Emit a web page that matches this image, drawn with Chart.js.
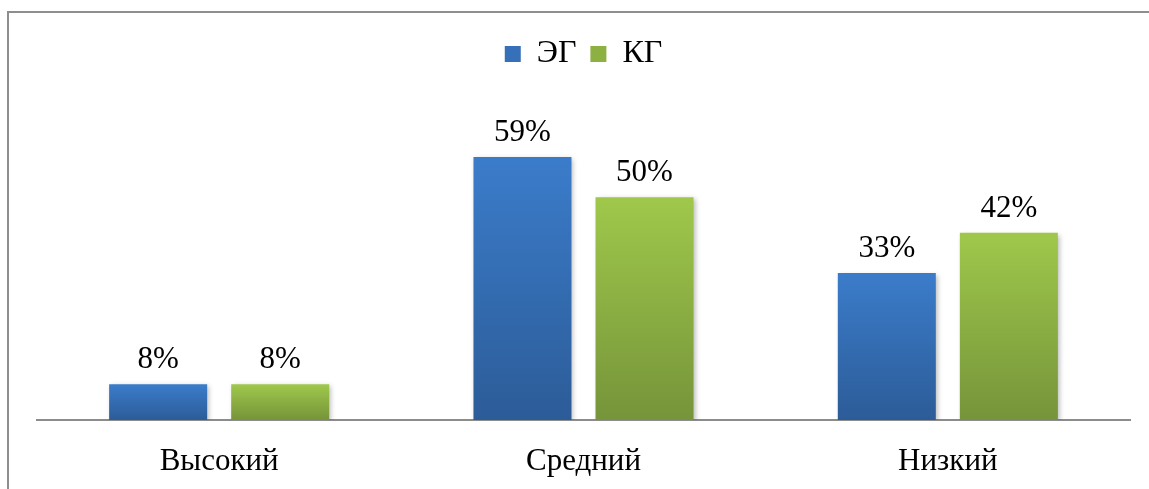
<!DOCTYPE html>
<html>
<head>
<meta charset="utf-8">
<script src="https://cdn.jsdelivr.net/npm/chart.js@4"></script>
<style>
  html, body { margin: 0; padding: 0; background: #fff; }
</style>
</head>
<body>
<canvas id="levelChart" width="1149" height="489"></canvas>
<script>
const categories = ['Высокий', 'Средний', 'Низкий'];
const seriesNames = ['ЭГ', 'КГ'];
const egValues = [8, 59, 33];
const kgValues = [8, 50, 42];

const FONT = '"Liberation Serif", "Times New Roman", serif';

// вертикальный градиент на каждый столбик: светлый сверху, тёмный снизу
function barGradient(top, bottom) {
  return function(ctx) {
    const chart = ctx.chart;
    if (!chart.chartArea || ctx.type !== 'data') return bottom;
    const y = chart.scales.y;
    const yTop = y.getPixelForValue(ctx.raw);
    const yBase = y.getPixelForValue(0);
    const g = chart.ctx.createLinearGradient(0, yTop, 0, yBase);
    g.addColorStop(0, top);
    g.addColorStop(1, bottom);
    return g;
  };
}

// рамка слева и сверху
const framePlugin = {
  id: 'frame',
  beforeDraw(chart) {
    const c = chart.ctx;
    c.save();
    c.strokeStyle = '#8e8e8e';
    c.lineWidth = 2;
    c.beginPath();
    c.moveTo(8, chart.height);
    c.lineTo(8, 12);
    c.lineTo(chart.width, 12);
    c.stroke();
    c.restore();
  }
};

// лёгкая тень у столбиков
const shadowPlugin = {
  id: 'barShadow',
  beforeDatasetsDraw(chart) {
    const c = chart.ctx;
    c.save();
    c.shadowColor = 'rgba(0,0,0,0.28)';
    c.shadowBlur = 5;
    c.shadowOffsetX = 2;
    c.shadowOffsetY = 2;
  },
  afterDatasetsDraw(chart) {
    chart.ctx.restore();
  }
};

// подписи значений над столбиками
const valueLabels = {
  id: 'valueLabels',
  afterDatasetsDraw(chart) {
    const c = chart.ctx;
    c.save();
    c.font = '31px ' + FONT;
    c.fillStyle = '#000';
    c.textAlign = 'center';
    c.textBaseline = 'alphabetic';
    chart.data.datasets.forEach(function(ds, i) {
      chart.getDatasetMeta(i).data.forEach(function(bar, j) {
        c.fillText(ds.data[j] + '%', bar.x, bar.y - 16);
      });
    });
    c.restore();
  }
};

new Chart(document.getElementById('levelChart'), {
  type: 'bar',
  data: {
    labels: categories,
    datasets: [{
      label: seriesNames[0],
      data: egValues,
      backgroundColor: barGradient('#3b7cca', '#2c5c98'),
      legendColor: '#3670b8',
      categoryPercentage: 0.67,
      barPercentage: 0.803
    }, {
      label: seriesNames[1],
      data: kgValues,
      backgroundColor: barGradient('#9fc84b', '#76943a'),
      legendColor: '#8db043',
      categoryPercentage: 0.67,
      barPercentage: 0.803
    }]
  },
  plugins: [framePlugin, shadowPlugin, valueLabels],
  options: {
    responsive: false,
    animation: false,
    layout: {
      padding: { left: 37, right: 19, top: 24, bottom: 0 }
    },
    plugins: {
      tooltip: { enabled: false },
      legend: {
        position: 'top',
        labels: {
          font: { family: FONT, size: 32 },
          color: '#000',
          boxWidth: 16,
          boxHeight: 16,
          padding: 14,
          generateLabels: function(chart) {
            return chart.data.datasets.map(function(ds, i) {
              return {
                text: ds.label,
                fillStyle: ds.legendColor,
                strokeStyle: ds.legendColor,
                lineWidth: 0,
                datasetIndex: i
              };
            });
          }
        }
      }
    },
    scales: {
      x: {
        grid: { display: false },
        border: { display: true, color: '#8c8c8c', width: 2 },
        ticks: {
          font: { family: FONT, size: 31 },
          color: '#000',
          padding: 15
        },
        afterFit: function(scale) { scale.height = 69; }
      },
      y: {
        display: false,
        min: 0,
        max: 76.3
      }
    }
  }
});
</script>
</body>
</html>
